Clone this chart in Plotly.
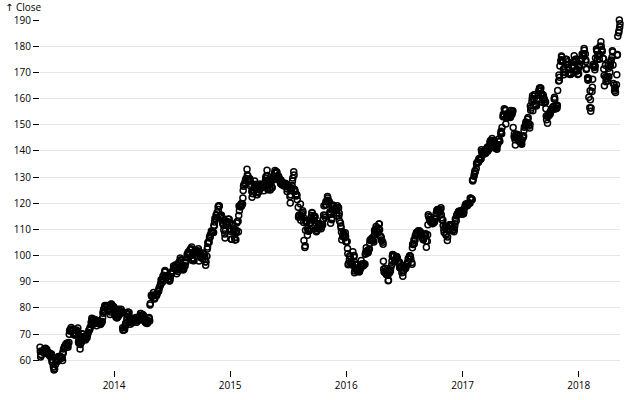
import pandas as pd
import plotly.graph_objects as go

last_date = "2018-05-11"

# closes read per week (Monday .. Friday of each week), one list per weekday and year
mon_2013 = [64.96, 63.28, 64.40, 64.20, 62.55, 62.26, 57.51, 58.46, 59.63, 61.08, 60.90, 65.25,
            66.43, 66.77, 72.53, 71.85, 69.80, 72.31, 64.30, 70.09, 68.11, 69.68, 71.40, 74.48,
            75.70, 75.22, 74.28, 74.08, 74.82, 78.75, 80.92, 79.64, 81.44]
tue_2013 = [63.41, 63.42, 63.06, 63.29, 62.07, 62.36, 57.52, 60.09, 60.21, 61.46, 59.86, 64.76,
            65.64, 69.94, 71.87, 69.80, 70.44, 70.74, 66.00, 69.87, 68.63, 68.56, 71.54, 74.27,
            73.81, 75.41, 74.15, 73.61, 76.20, 80.90, 80.79, 79.28, 81.36]
wed_2013 = [61.26, 63.05, 63.56, 63.10, 61.87, 60.31, 56.25, 60.11, 61.44, 60.76, 62.99, 64.65,
            66.46, 71.21, 71.58, 70.12, 71.24, 66.82, 67.47, 68.95, 69.06, 69.51, 71.59, 75.99,
            74.67, 74.20, 74.99, 74.65, 77.99, 80.71, 80.79, 79.08, 81.10]
thu_2013 = [62.20, 63.16, 64.53, 62.34, 62.68, 59.49, 56.87, 59.95, 61.32, 61.20, 62.64, 65.24,
            65.47, 71.13, 71.77, 69.75, 71.58, 67.53, 68.06, 68.69, 67.71, 70.24, 72.07, 75.36,
            74.67, 73.21, 75.09, 73.99, 78.70, 80.54, 79.71, 77.49, 80.77]
fri_2013 = [61.89, 63.59, 64.25, 63.12, 61.44, 59.07, 56.65, 59.63, 60.93, 60.71, 64.29,
            66.08, 64.92, 71.76, 71.57, 69.60, 71.17, 66.41, 66.77, 68.96, 69.00, 70.40,
            72.70, 75.14, 74.29, 74.37, 75.00, 74.26, 79.44, 80.00, 79.20, 78.43, 80.01]

mon_2014 = [80.55, 77.70, 76.53, 77.80, 78.64, 71.65, 75.57, 78.20, 74.60, 75.39, 75.85, 75.25,
            77.03, 76.68, 74.78, 74.53, 76.32, 84.87, 85.85, 84.91, 86.37, 88.50, 89.81, 93.70,
            92.20, 90.83, 92.93, 95.97, 96.45, 93.94, 99.02, 95.59, 95.99, 99.16, 100.89, 102.50,
            98.36, 101.63, 101.06, 100.11, 99.62, 99.81, 99.76, 105.11, 109.40, 108.83, 113.99,
            118.63, 115.07, 112.40, 108.23, 112.94]
tue_2014 = [80.01, 76.43, 78.06, 78.44, 72.36, 72.68, 76.57, 76.56, 74.49, 75.89, 76.34, 75.89,
            77.86, 77.23, 75.76, 73.99, 75.88, 84.62, 84.92, 84.87, 86.39, 89.14, 91.08, 94.25,
            92.08, 90.28, 93.48, 95.13, 95.32, 94.72, 98.15, 95.12, 95.97, 100.53, 100.61, 103.30,
            97.99, 101.79, 102.64, 100.75, 98.75, 98.75, 102.47, 106.74, 108.60, 111.56, 115.47,
            117.60, 114.63, 114.12, 106.75, 112.54]
wed_2014 = [80.15, 77.15, 79.45, 78.79, 71.40, 73.21, 77.38, 75.84, 74.24, 75.67, 76.16, 75.91,
            77.86, 77.38, 74.78, 74.29, 74.96, 84.30, 83.65, 84.62, 86.39, 89.14, 92.12, 93.86,
            92.29, 90.36, 93.52, 95.35, 95.32, 97.19, 98.38, 94.48, 97.50, 100.53, 100.89, 98.94,
            101.00, 101.58, 101.75, 99.18, 101.02, 97.54, 103.30, 107.34, 108.86, 111.25, 115.47,
            119.00, 115.18, 111.95, 109.41, 112.54]
thu_2014 = [79.02, 76.65, 78.78, 79.45, 71.65, 73.91, 77.71, 74.94, 74.36, 75.50, 74.54, 75.26,
            77.11, 76.97, 74.53, 74.99, 81.11, 84.50, 83.42, 84.83, 87.10, 90.77, 92.48, 92.29,
            91.86, 90.90, 94.03, 95.39, 93.09, 97.03, 95.60, 94.96, 97.24, 100.57, 102.13, 98.12,
            101.43, 101.79, 97.87, 99.90, 100.80, 96.26, 104.83, 106.98, 109.25, 112.82, 114.67,
            118.95, 115.49, 111.62, 112.65, 112.90]
fri_2014 = [77.28, 76.13, 77.24, 78.01, 71.51, 74.24, 78.44, 73.77, 75.18, 75.78, 74.96,
            76.12, 76.69, 75.97, 74.23, 74.99, 81.71, 84.65, 83.65, 85.36, 87.73, 90.43,
            92.22, 91.28, 90.91, 91.98, 94.03, 95.22, 94.43, 97.67, 96.13, 94.74, 97.98,
            101.32, 102.50, 98.97, 101.66, 100.96, 100.75, 99.62, 100.73, 97.67, 105.22,
            108.00, 109.01, 114.18, 116.47, 118.93, 115.00, 109.73, 111.78, 113.99]

mon_2015 = [113.91, 106.25, 109.25, 106.00, 113.10, 118.63, 119.72, 127.50, 133.00, 129.09,
            127.14, 124.95, 127.21, 126.37, 127.35, 126.85, 127.60, 132.65, 128.70, 126.32,
            130.19, 132.00, 130.54, 127.80, 126.92, 127.61, 124.53, 126.00, 125.66, 132.07,
            122.77, 118.44, 119.72, 117.16, 103.12, 112.76, 109.50, 115.31, 115.21, 112.44,
            110.78, 111.60, 111.73, 115.28, 121.18, 120.57, 114.18, 117.75, 118.30, 118.28,
            112.48, 107.33, 106.82]
tue_2015 = [112.52, 106.26, 110.22, 108.72, 109.14, 118.65, 122.02, 127.83, 130.75, 128.64,
            124.51, 124.80, 126.69, 124.43, 126.01, 126.30, 126.91, 130.56, 125.80, 125.87,
            130.07, 129.62, 129.96, 127.42, 127.60, 127.03, 125.43, 125.69, 125.61, 130.75,
            123.38, 114.64, 113.49, 116.50, 103.74, 107.72, 112.31, 116.41, 113.40, 109.06,
            111.31, 111.79, 113.77, 114.55, 122.57, 116.11, 113.69, 118.88, 117.34, 118.23,
            111.34, 107.23, 108.74]
wed_2015 = [110.38, 111.89, 109.80, 109.55, 115.31, 119.56, 124.88, 128.79, 128.79, 129.36,
            122.24, 127.04, 123.38, 124.25, 125.85, 126.30, 128.62, 128.64, 125.80, 126.01,
            130.07, 132.04, 130.12, 128.88, 127.60, 127.50, 126.60, 122.57, 126.82, 125.16,
            123.38, 115.40, 115.24, 114.64, 109.69, 110.37, 110.15, 116.28, 114.32, 110.30,
            110.21, 110.21, 113.76, 119.27, 122.00, 116.77, 117.29, 117.34, 116.28, 115.20,
            110.49, 108.61, 107.32]
thu_2015 = [109.90, 111.95, 106.82, 112.40, 118.90, 119.94, 126.46, 128.72, 130.42, 128.54,
            124.45, 128.47, 124.24, 125.32, 125.85, 126.78, 129.67, 125.15, 125.01, 128.95,
            131.60, 131.78, 129.36, 127.88, 127.61, 127.30, 126.70, 120.07, 128.51, 125.22,
            122.99, 115.13, 115.15, 112.65, 112.92, 109.58, 112.57, 113.92, 115.00, 109.58,
            111.86, 111.86, 115.50, 120.53, 120.92, 115.72, 118.78, 117.60, 115.20, 116.17,
            108.98, 107.90, 105.26]
fri_2015 = [109.33, 112.01, 105.99, 112.98, 117.16, 118.93, 127.08, 129.50, 128.46, 126.60,
            123.59, 125.90, 123.25, 125.32, 127.10, 124.75, 130.28, 128.95, 127.62, 128.77,
            132.54, 130.28, 128.65, 127.17, 126.60, 126.75, 126.44, 123.28, 129.62, 124.50,
            121.30, 115.52, 115.96, 105.76, 113.29, 109.27, 114.21, 113.45, 114.71, 110.38,
            112.12, 111.04, 119.08, 119.50, 121.06, 112.34, 119.30, 117.81, 119.03, 113.18,
            106.03, 108.03, 105.26]

mon_2016 = [105.35, 98.53, 96.70, 99.44, 96.43, 95.01, 95.00, 96.88, 96.69, 101.87, 102.52,
            105.91, 105.19, 111.12, 109.02, 107.48, 105.08, 93.64, 92.79, 93.88, 96.43, 100.00,
            98.63, 97.34, 95.10, 92.04, 95.60, 96.98, 99.83, 97.34, 106.05, 108.37, 109.48,
            108.51, 106.82, 107.70, 105.44, 113.58, 112.88, 112.52, 116.05, 117.55, 117.65,
            113.54, 110.41, 105.71, 111.73, 111.57, 109.11, 113.30, 116.64, 116.50]
tue_2016 = [102.71, 99.96, 96.66, 99.99, 94.48, 94.27, 96.64, 96.11, 100.53, 101.03, 104.58,
            106.72, 107.68, 109.81, 110.44, 106.91, 104.35, 95.18, 93.42, 93.49, 97.90, 99.86,
            99.03, 97.14, 95.55, 93.59, 94.99, 97.42, 99.87, 96.67, 104.48, 108.81, 109.38,
            108.85, 106.00, 107.90, 107.95, 113.57, 113.30, 113.00, 116.30, 117.47, 118.25,
            111.49, 111.06, 107.11, 111.23, 111.46, 109.95, 115.19, 116.95, 117.26]
wed_2016 = [100.70, 97.39, 96.79, 93.42, 96.35, 94.99, 98.12, 96.10, 100.75, 101.12, 105.97,
            106.13, 109.56, 110.38, 112.04, 106.91, 97.82, 94.19, 92.51, 94.56, 99.62, 97.72,
            99.65, 97.46, 95.91, 94.40, 95.94, 96.87, 99.96, 102.95, 105.79, 108.85, 109.22,
            107.85, 106.10, 108.36, 111.77, 113.55, 113.09, 113.05, 117.34, 117.06, 115.59,
            111.59, 110.88, 109.99, 111.80, 110.52, 111.03, 115.19, 116.29, 116.76]
thu_2016 = [96.45, 99.52, 96.30, 94.09, 96.60, 93.70, 96.26, 96.76, 101.50, 101.17, 105.80,
            105.67, 108.99, 108.54, 112.10, 105.97, 94.83, 93.24, 90.34, 94.20, 100.41, 97.90,
            98.94, 97.55, 96.10, 95.60, 95.53, 98.79, 99.43, 104.34, 105.87, 108.00, 109.08,
            107.57, 106.73, 105.52, 115.57, 114.62, 112.18, 113.89, 116.98, 117.12, 114.48,
            109.83, 107.79, 109.95, 111.50, 109.49, 112.12, 115.82, 115.99, 116.73]
fri_2016 = [96.96, 97.13, 101.42, 97.34, 94.02, 93.99, 96.04, 96.91, 103.01, 102.26, 105.92,
            105.67, 109.99, 108.66, 109.85, 105.68, 93.74, 92.72, 90.52, 95.22, 100.35, 97.92,
            98.83, 95.33, 93.40, 95.89, 96.68, 98.78, 98.66, 104.21, 107.48, 108.18, 109.36,
            106.94, 107.73, 103.13, 114.92, 112.71, 113.05, 114.06, 117.63, 116.60, 113.72,
            108.84, 108.43, 110.06, 111.79, 109.90, 113.95, 115.97, 116.52, 115.82]

mon_2017 = [116.00, 118.99, 119.00, 120.08, 121.63, 130.29, 133.29, 135.70, 136.93, 139.34,
            139.20, 141.46, 140.88, 143.70, 143.17, 141.83, 143.64, 146.58, 153.01, 155.70,
            153.99, 153.70, 153.93, 145.42, 146.34, 145.82, 143.50, 145.06, 149.56, 152.09,
            148.73, 158.81, 159.85, 157.21, 161.47, 164.00, 161.50, 158.67, 150.55, 153.81,
            155.84, 159.88, 156.17, 166.72, 174.25, 173.97, 169.98, 174.09, 169.80, 172.67,
            176.42, 175.00]
tue_2017 = [116.15, 119.11, 120.00, 119.97, 121.35, 131.20, 135.02, 136.70, 136.99, 139.52,
            138.99, 139.84, 143.20, 144.77, 141.63, 141.20, 144.53, 147.51, 153.99, 155.47,
            154.30, 153.67, 154.45, 146.59, 145.01, 143.73, 143.20, 145.53, 150.08, 152.20,
            150.05, 160.08, 161.60, 159.78, 162.91, 162.08, 160.86, 158.73, 153.50, 154.20,
            155.90, 160.47, 157.10, 169.04, 174.81, 171.34, 173.14, 173.07, 169.20, 171.70,
            174.54, 170.57]
wed_2017 = [116.02, 119.75, 119.78, 121.88, 128.75, 131.53, 135.51, 137.08, 140.44, 138.68,
            140.46, 141.42, 143.80, 144.02, 142.27, 140.68, 143.68, 147.06, 153.26, 150.25,
            153.80, 152.76, 154.99, 145.16, 145.87, 145.83, 142.73, 145.74, 151.02, 152.74,
            157.14, 161.06, 160.95, 159.54, 163.35, 161.91, 159.65, 156.07, 153.14, 154.48,
            156.55, 159.76, 156.41, 166.89, 176.24, 169.08, 174.96, 169.48, 169.64, 172.22,
            174.35, 171.08]
thu_2017 = [116.61, 119.25, 119.60, 121.94, 128.53, 132.42, 135.35, 136.53, 139.79, 139.00,
            140.69, 140.92, 143.93, 143.66, 141.50, 142.44, 143.79, 146.53, 153.95, 152.54,
            153.87, 153.18, 155.37, 144.29, 145.63, 143.68, 142.50, 147.77, 150.34, 150.56,
            155.57, 155.32, 157.86, 159.27, 164.00, 161.26, 158.28, 153.39, 154.23, 155.39,
            156.00, 155.98, 157.41, 168.11, 175.88, 171.10, 175.00, 171.85, 169.32, 172.27,
            174.33, 170.60]
fri_2017 = [117.91, 119.04, 120.00, 121.95, 129.08, 132.12, 135.72, 136.66, 139.14, 139.14,
            139.99, 140.64, 143.66, 143.34, 141.05, 142.27, 143.65, 148.96, 156.10, 153.06,
            153.61, 155.45, 148.98, 142.27, 146.28, 144.02, 144.18, 149.04, 150.27, 149.50,
            156.39, 157.48, 157.50, 159.86, 164.05, 158.63, 159.88, 151.89, 154.12, 155.30,
            156.99, 156.25, 163.05, 172.50, 174.67, 170.15, 174.97, 171.05, 169.37, 173.97,
            175.01, 169.23]

mon_2018 = [169.50, 174.35, 177.00, 177.00, 167.96, 156.49, 162.71, 172.40, 178.97, 176.82,
            181.72, 175.30, 172.77, 166.68, 170.05, 175.82, 165.24, 165.26, 185.16]
tue_2018 = [171.80, 174.33, 176.19, 174.80, 166.97, 163.03, 164.34, 171.85, 178.39, 176.67,
            179.97, 175.24, 168.34, 168.39, 173.25, 178.24, 162.94, 169.10, 186.05]
wed_2018 = [172.26, 174.33, 177.04, 174.22, 167.43, 159.54, 167.37, 171.07, 178.12, 175.03,
            178.65, 171.27, 166.48, 172.80, 172.44, 177.84, 163.65, 176.57, 190.04]
thu_2018 = [173.03, 175.28, 179.10, 171.11, 167.78, 155.15, 172.99, 172.50, 175.00, 176.94,
            178.44, 168.85, 167.50, 171.61, 174.14, 172.80, 164.22, 176.89, 187.36]
fri_2018 = [175.00, 177.09, 178.46, 171.51, 160.50, 156.41, 172.43, 175.50, 176.21, 179.98,
            178.02, 164.94, 167.78, 168.38, 174.73, 165.72, 162.32, 183.83, 188.59]

weekday_lists = {
    4: [mon_2013, mon_2014, mon_2015, mon_2016, mon_2017, mon_2018],
    3: [tue_2013, tue_2014, tue_2015, tue_2016, tue_2017, tue_2018],
    2: [wed_2013, wed_2014, wed_2015, wed_2016, wed_2017, wed_2018],
    1: [thu_2013, thu_2014, thu_2015, thu_2016, thu_2017, thu_2018],
    0: [fri_2013, fri_2014, fri_2015, fri_2016, fri_2017, fri_2018],
}

fridays = pd.date_range("2013-05-17", last_date, freq="W-FRI")
dates, closes = [], []
for days_before_friday, parts in weekday_lists.items():
    vals = [v for part in parts for v in part]
    n = min(len(fridays), len(vals))
    dates += list(fridays[:n] - pd.Timedelta(days=days_before_friday))
    closes += vals[:n]
df = pd.DataFrame({"Date": dates, "Close": closes}).sort_values("Date")

y_ticks = list(range(60, 200, 10))
x_ticks = ["2014-01-01", "2015-01-01", "2016-01-01", "2017-01-01", "2018-01-01"]
x_labels = ["2014", "2015", "2016", "2017", "2018"]

font = dict(family="Open Sans, Noto Sans, sans-serif", size=10, color="black")

fig = go.Figure(go.Scatter(
    x=df["Date"], y=df["Close"], mode="markers", cliponaxis=False, hoverinfo="skip",
    marker=dict(symbol="circle-open", size=6, color="black", line=dict(width=1.5, color="black")),
))

fig.update_layout(
    width=640, height=400,
    margin=dict(l=40, r=20, t=20, b=30, pad=0),
    plot_bgcolor="white", paper_bgcolor="white",
    showlegend=False, font=font,
    xaxis=dict(range=["2013-05-13", last_date], tickvals=x_ticks, ticktext=x_labels,
               ticks="outside", ticklen=6, tickcolor="black", tickwidth=1, automargin=False,
               showgrid=False, zeroline=False, showline=False, tickfont=font),
    yaxis=dict(range=[56.25, 190.04], tickvals=y_ticks, ticks="outside", ticklen=6,
               tickcolor="black", tickwidth=1, showgrid=True, gridcolor="#e6e6e6",
               automargin=False, zeroline=False, showline=False, tickfont=font),
    annotations=[dict(text='<span style="font-family:DejaVu Sans">↑</span> Close',
                      xref="paper", yref="paper", x=0, y=1,
                      xanchor="left", yanchor="bottom", xshift=-37, yshift=4,
                      showarrow=False, font=font)],
)

# remove the page's default 8px body margin so the figure sits at the window origin
fig.write_html("out.html", config={"displayModeBar": False},
               post_script="document.body.style.margin='0px';")
